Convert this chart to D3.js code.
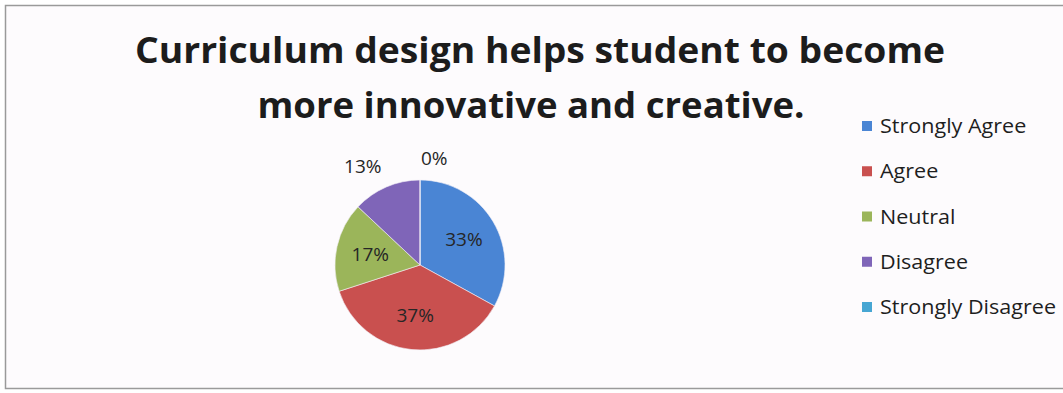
<!DOCTYPE html>
<html>
<head>
<meta charset="utf-8">
<script src="https://cdn.jsdelivr.net/npm/d3@7"></script>
<style>
  html, body { margin: 0; padding: 0; background: #ffffff; }
  svg { display: block; }
</style>
</head>
<body>
<svg id="chart" width="1063" height="393"></svg>
<script>
// ---- data ----
const categories = ["Strongly Agree", "Agree", "Neutral", "Disagree", "Strongly Disagree"];
const values = [33, 37, 17, 13, 0];
const colors = ["#4A85D4", "#C9504F", "#9BB55A", "#7F65B8", "#47A6D3"];
const titleLines = ["Curriculum design helps student to become", "more innovative and creative."];

// ---- layout ----
const W = 1063, H = 393;
const svg = d3.select("#chart");
const font = "'Open Sans', 'Noto Sans', sans-serif";

svg.append("rect").attr("x", 5.5).attr("y", 5.5).attr("width", W + 10).attr("height", 383)
  .attr("fill", "#fdfbfd").attr("stroke", "#9a9a9a").attr("stroke-width", 1.5);

// title
const title = svg.append("g");
const titleBaselines = [63, 118];
const titleWidths = [810, 547];
const titleCenters = [540, 531];
titleLines.forEach((t, i) => {
  title.append("text")
    .attr("x", titleCenters[i]).attr("y", titleBaselines[i])
    .attr("text-anchor", "middle")
    .attr("font-family", font).attr("font-weight", 700).attr("font-size", 36)
    .attr("fill", "#1c1c1c")
    .attr("textLength", titleWidths[i]).attr("lengthAdjust", "spacingAndGlyphs")
    .text(t);
});

// pie
const cx = 420, cy = 265, r = 85;
const pie = d3.pie().sort(null).value(d => d)(values);
const arc = d3.arc().innerRadius(0).outerRadius(r);
const g = svg.append("g").attr("transform", `translate(${cx},${cy})`);
g.selectAll("path").data(pie).enter().append("path")
  .attr("d", arc)
  .attr("fill", (d, i) => colors[i])
  .attr("stroke", "#f4f0f6").attr("stroke-width", 0.6);

const inArc = d3.arc().innerRadius(r * 0.6).outerRadius(r * 0.6);
const outArc = d3.arc().innerRadius(r * 1.26).outerRadius(r * 1.26);
g.selectAll("text.lbl").data(pie).enter().append("text")
  .attr("class", "lbl")
  .each(function (d) {
    const outside = d.data < 15;
    let [x, y] = (outside ? outArc : inArc).centroid(d);
    let anchor = "middle";
    if (outside) {
      const mid = ((d.startAngle + d.endAngle) / 2) % (2 * Math.PI);
      if (mid > Math.PI) { anchor = "end"; x += 4; } else { anchor = "start"; x += 1; }
    }
    d3.select(this).attr("x", x).attr("y", y).attr("text-anchor", anchor);
  })
  .attr("dy", "0.35em")
  .attr("font-family", font).attr("font-size", 19)
  .attr("fill", "#262626")
  .text(d => d3.format(".0%")(d.data / 100));

// legend
const legendY = d3.scalePoint().domain(categories).range([126, 307]);
const lg = svg.append("g");
categories.forEach((c, i) => {
  const y = legendY(c);
  lg.append("rect").attr("x", 862).attr("y", y - 5).attr("width", 10).attr("height", 10)
    .attr("fill", colors[i]);
  lg.append("text").attr("x", 880).attr("y", y).attr("dy", "0.36em")
    .attr("font-family", font).attr("font-size", 19.5).attr("fill", "#1e1e1e")
    .text(c);
});
// fit legend text width to the reference (Calibri-like narrow face)
const maxW = d3.max(lg.selectAll("text").nodes(), n => n.getComputedTextLength());
const scale = 176 / maxW;
lg.selectAll("text").each(function () {
  const w = this.getComputedTextLength();
  d3.select(this).attr("textLength", w * scale).attr("lengthAdjust", "spacingAndGlyphs");
});
</script>
</body>
</html>
